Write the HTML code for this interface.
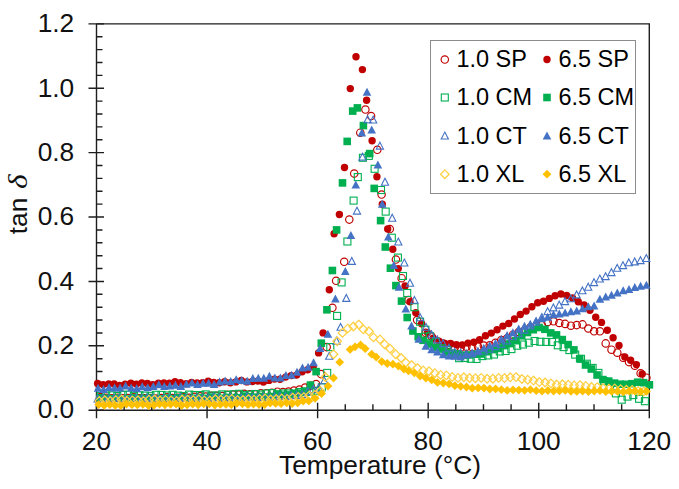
<!DOCTYPE html>
<html><head><meta charset="utf-8"><style>
html,body{margin:0;padding:0;background:#fff;width:679px;height:489px;overflow:hidden}
svg{display:block}
text{font-family:"Liberation Sans",sans-serif}
</style></head><body>
<svg width="679" height="489" viewBox="0 0 679 489" font-family="Liberation Sans, sans-serif" font-size="26.3" fill="#000">
<rect width="679" height="489" fill="#fff"/>
<path d="M96.5 23.9H649.3V410.2" fill="none" stroke="#1e1e1e" stroke-width="1.4"/><path d="M96.5 23.9V410.2H649.3" fill="none" stroke="#1e1e1e" stroke-width="1.4"/><path d="M88.5 410.20H104.0M96.5 397.32H102.5M96.5 384.45H102.5M96.5 371.57H102.5M96.5 358.69H102.5M88.5 345.82H104.0M96.5 332.94H102.5M96.5 320.06H102.5M96.5 307.19H102.5M96.5 294.31H102.5M88.5 281.43H104.0M96.5 268.56H102.5M96.5 255.68H102.5M96.5 242.80H102.5M96.5 229.93H102.5M88.5 217.05H104.0M96.5 204.17H102.5M96.5 191.30H102.5M96.5 178.42H102.5M96.5 165.54H102.5M88.5 152.67H104.0M96.5 139.79H102.5M96.5 126.91H102.5M96.5 114.04H102.5M96.5 101.16H102.5M88.5 88.28H104.0M96.5 75.41H102.5M96.5 62.53H102.5M96.5 49.65H102.5M96.5 36.78H102.5M88.5 23.90H104.0M96.50 402.7V418.2M124.14 404.2V410.2M151.78 404.2V410.2M179.42 404.2V410.2M207.06 402.7V418.2M234.70 404.2V410.2M262.34 404.2V410.2M289.98 404.2V410.2M317.62 402.7V418.2M345.26 404.2V410.2M372.90 404.2V410.2M400.54 404.2V410.2M428.18 402.7V418.2M455.82 404.2V410.2M483.46 404.2V410.2M511.10 404.2V410.2M538.74 402.7V418.2M566.38 404.2V410.2M594.02 404.2V410.2M621.66 404.2V410.2M649.30 402.7V418.2" fill="none" stroke="#1e1e1e" stroke-width="1.4"/>
<g><circle cx="100.5" cy="397.1" r="3.7" fill="none" stroke="#C00000" stroke-width="1.15"/><circle cx="106.1" cy="397.9" r="3.7" fill="none" stroke="#C00000" stroke-width="1.15"/><circle cx="111.6" cy="398.3" r="3.7" fill="none" stroke="#C00000" stroke-width="1.15"/><circle cx="117.1" cy="397.7" r="3.7" fill="none" stroke="#C00000" stroke-width="1.15"/><circle cx="122.6" cy="398.2" r="3.7" fill="none" stroke="#C00000" stroke-width="1.15"/><circle cx="128.2" cy="398.0" r="3.7" fill="none" stroke="#C00000" stroke-width="1.15"/><circle cx="133.7" cy="397.4" r="3.7" fill="none" stroke="#C00000" stroke-width="1.15"/><circle cx="139.2" cy="398.3" r="3.7" fill="none" stroke="#C00000" stroke-width="1.15"/><circle cx="144.8" cy="398.4" r="3.7" fill="none" stroke="#C00000" stroke-width="1.15"/><circle cx="150.3" cy="398.2" r="3.7" fill="none" stroke="#C00000" stroke-width="1.15"/><circle cx="155.8" cy="398.6" r="3.7" fill="none" stroke="#C00000" stroke-width="1.15"/><circle cx="161.3" cy="398.0" r="3.7" fill="none" stroke="#C00000" stroke-width="1.15"/><circle cx="166.9" cy="397.4" r="3.7" fill="none" stroke="#C00000" stroke-width="1.15"/><circle cx="172.4" cy="398.0" r="3.7" fill="none" stroke="#C00000" stroke-width="1.15"/><circle cx="177.9" cy="397.7" r="3.7" fill="none" stroke="#C00000" stroke-width="1.15"/><circle cx="183.5" cy="397.4" r="3.7" fill="none" stroke="#C00000" stroke-width="1.15"/><circle cx="189.0" cy="397.8" r="3.7" fill="none" stroke="#C00000" stroke-width="1.15"/><circle cx="194.5" cy="396.8" r="3.7" fill="none" stroke="#C00000" stroke-width="1.15"/><circle cx="200.0" cy="396.3" r="3.7" fill="none" stroke="#C00000" stroke-width="1.15"/><circle cx="205.6" cy="396.6" r="3.7" fill="none" stroke="#C00000" stroke-width="1.15"/><circle cx="211.1" cy="395.8" r="3.7" fill="none" stroke="#C00000" stroke-width="1.15"/><circle cx="216.6" cy="395.9" r="3.7" fill="none" stroke="#C00000" stroke-width="1.15"/><circle cx="222.2" cy="396.1" r="3.7" fill="none" stroke="#C00000" stroke-width="1.15"/><circle cx="227.7" cy="394.9" r="3.7" fill="none" stroke="#C00000" stroke-width="1.15"/><circle cx="233.2" cy="394.6" r="3.7" fill="none" stroke="#C00000" stroke-width="1.15"/><circle cx="238.7" cy="394.6" r="3.7" fill="none" stroke="#C00000" stroke-width="1.15"/><circle cx="244.3" cy="393.8" r="3.7" fill="none" stroke="#C00000" stroke-width="1.15"/><circle cx="249.8" cy="394.2" r="3.7" fill="none" stroke="#C00000" stroke-width="1.15"/><circle cx="255.3" cy="394.3" r="3.7" fill="none" stroke="#C00000" stroke-width="1.15"/><circle cx="260.8" cy="393.3" r="3.7" fill="none" stroke="#C00000" stroke-width="1.15"/><circle cx="266.4" cy="393.2" r="3.7" fill="none" stroke="#C00000" stroke-width="1.15"/><circle cx="271.9" cy="392.7" r="3.7" fill="none" stroke="#C00000" stroke-width="1.15"/><circle cx="277.4" cy="391.7" r="3.7" fill="none" stroke="#C00000" stroke-width="1.15"/><circle cx="283.0" cy="392.0" r="3.7" fill="none" stroke="#C00000" stroke-width="1.15"/><circle cx="288.5" cy="391.6" r="3.7" fill="none" stroke="#C00000" stroke-width="1.15"/><circle cx="294.0" cy="390.6" r="3.7" fill="none" stroke="#C00000" stroke-width="1.15"/><circle cx="299.5" cy="389.6" r="3.7" fill="none" stroke="#C00000" stroke-width="1.15"/><circle cx="305.1" cy="387.5" r="3.7" fill="none" stroke="#C00000" stroke-width="1.15"/><circle cx="310.6" cy="385.8" r="3.7" fill="none" stroke="#C00000" stroke-width="1.15"/><circle cx="316.1" cy="384.1" r="3.7" fill="none" stroke="#C00000" stroke-width="1.15"/><circle cx="321.0" cy="374.1" r="3.7" fill="none" stroke="#C00000" stroke-width="1.15"/><circle cx="326.7" cy="347.1" r="3.7" fill="none" stroke="#C00000" stroke-width="1.15"/><circle cx="332.4" cy="307.8" r="3.7" fill="none" stroke="#C00000" stroke-width="1.15"/><circle cx="336.1" cy="280.8" r="3.7" fill="none" stroke="#C00000" stroke-width="1.15"/><circle cx="344.2" cy="261.8" r="3.7" fill="none" stroke="#C00000" stroke-width="1.15"/><circle cx="349.3" cy="219.6" r="3.7" fill="none" stroke="#C00000" stroke-width="1.15"/><circle cx="354.2" cy="173.6" r="3.7" fill="none" stroke="#C00000" stroke-width="1.15"/><circle cx="360.3" cy="132.7" r="3.7" fill="none" stroke="#C00000" stroke-width="1.15"/><circle cx="365.4" cy="109.5" r="3.7" fill="none" stroke="#C00000" stroke-width="1.15"/><circle cx="371.1" cy="116.0" r="3.7" fill="none" stroke="#C00000" stroke-width="1.15"/><circle cx="377.3" cy="149.8" r="3.7" fill="none" stroke="#C00000" stroke-width="1.15"/><circle cx="381.6" cy="194.5" r="3.7" fill="none" stroke="#C00000" stroke-width="1.15"/><circle cx="389.8" cy="229.0" r="3.7" fill="none" stroke="#C00000" stroke-width="1.15"/><circle cx="395.9" cy="259.5" r="3.7" fill="none" stroke="#C00000" stroke-width="1.15"/><circle cx="401.6" cy="278.2" r="3.7" fill="none" stroke="#C00000" stroke-width="1.15"/><circle cx="408.6" cy="300.1" r="3.7" fill="none" stroke="#C00000" stroke-width="1.15"/><circle cx="417.1" cy="320.1" r="3.7" fill="none" stroke="#C00000" stroke-width="1.15"/><circle cx="425.8" cy="332.9" r="3.7" fill="none" stroke="#C00000" stroke-width="1.15"/><circle cx="431.6" cy="336.6" r="3.7" fill="none" stroke="#C00000" stroke-width="1.15"/><circle cx="437.4" cy="341.6" r="3.7" fill="none" stroke="#C00000" stroke-width="1.15"/><circle cx="443.2" cy="343.5" r="3.7" fill="none" stroke="#C00000" stroke-width="1.15"/><circle cx="449.0" cy="344.9" r="3.7" fill="none" stroke="#C00000" stroke-width="1.15"/><circle cx="454.8" cy="347.3" r="3.7" fill="none" stroke="#C00000" stroke-width="1.15"/><circle cx="460.6" cy="347.7" r="3.7" fill="none" stroke="#C00000" stroke-width="1.15"/><circle cx="466.4" cy="346.7" r="3.7" fill="none" stroke="#C00000" stroke-width="1.15"/><circle cx="472.2" cy="347.3" r="3.7" fill="none" stroke="#C00000" stroke-width="1.15"/><circle cx="478.0" cy="346.5" r="3.7" fill="none" stroke="#C00000" stroke-width="1.15"/><circle cx="483.8" cy="345.6" r="3.7" fill="none" stroke="#C00000" stroke-width="1.15"/><circle cx="489.7" cy="345.3" r="3.7" fill="none" stroke="#C00000" stroke-width="1.15"/><circle cx="495.5" cy="342.8" r="3.7" fill="none" stroke="#C00000" stroke-width="1.15"/><circle cx="501.3" cy="340.1" r="3.7" fill="none" stroke="#C00000" stroke-width="1.15"/><circle cx="507.1" cy="338.3" r="3.7" fill="none" stroke="#C00000" stroke-width="1.15"/><circle cx="512.9" cy="334.7" r="3.7" fill="none" stroke="#C00000" stroke-width="1.15"/><circle cx="518.7" cy="332.1" r="3.7" fill="none" stroke="#C00000" stroke-width="1.15"/><circle cx="524.5" cy="330.4" r="3.7" fill="none" stroke="#C00000" stroke-width="1.15"/><circle cx="530.3" cy="327.6" r="3.7" fill="none" stroke="#C00000" stroke-width="1.15"/><circle cx="536.1" cy="326.6" r="3.7" fill="none" stroke="#C00000" stroke-width="1.15"/><circle cx="541.9" cy="325.2" r="3.7" fill="none" stroke="#C00000" stroke-width="1.15"/><circle cx="547.7" cy="322.0" r="3.7" fill="none" stroke="#C00000" stroke-width="1.15"/><circle cx="553.5" cy="321.3" r="3.7" fill="none" stroke="#C00000" stroke-width="1.15"/><circle cx="559.3" cy="323.0" r="3.7" fill="none" stroke="#C00000" stroke-width="1.15"/><circle cx="565.1" cy="323.9" r="3.7" fill="none" stroke="#C00000" stroke-width="1.15"/><circle cx="570.9" cy="325.7" r="3.7" fill="none" stroke="#C00000" stroke-width="1.15"/><circle cx="576.7" cy="325.1" r="3.7" fill="none" stroke="#C00000" stroke-width="1.15"/><circle cx="582.5" cy="324.4" r="3.7" fill="none" stroke="#C00000" stroke-width="1.15"/><circle cx="588.3" cy="328.5" r="3.7" fill="none" stroke="#C00000" stroke-width="1.15"/><circle cx="594.1" cy="331.3" r="3.7" fill="none" stroke="#C00000" stroke-width="1.15"/><circle cx="599.9" cy="331.3" r="3.7" fill="none" stroke="#C00000" stroke-width="1.15"/><circle cx="605.7" cy="343.4" r="3.7" fill="none" stroke="#C00000" stroke-width="1.15"/><circle cx="611.5" cy="349.7" r="3.7" fill="none" stroke="#C00000" stroke-width="1.15"/><circle cx="617.3" cy="352.7" r="3.7" fill="none" stroke="#C00000" stroke-width="1.15"/><circle cx="623.2" cy="357.8" r="3.7" fill="none" stroke="#C00000" stroke-width="1.15"/><circle cx="629.0" cy="362.1" r="3.7" fill="none" stroke="#C00000" stroke-width="1.15"/><circle cx="634.8" cy="365.7" r="3.7" fill="none" stroke="#C00000" stroke-width="1.15"/><circle cx="640.6" cy="373.3" r="3.7" fill="none" stroke="#C00000" stroke-width="1.15"/><circle cx="646.4" cy="377.7" r="3.7" fill="none" stroke="#C00000" stroke-width="1.15"/></g><g><circle cx="97.6" cy="383.4" r="3.7" fill="#C00000"/><circle cx="103.1" cy="384.6" r="3.7" fill="#C00000"/><circle cx="108.7" cy="384.0" r="3.7" fill="#C00000"/><circle cx="114.2" cy="384.0" r="3.7" fill="#C00000"/><circle cx="119.7" cy="385.4" r="3.7" fill="#C00000"/><circle cx="125.2" cy="384.1" r="3.7" fill="#C00000"/><circle cx="130.8" cy="383.3" r="3.7" fill="#C00000"/><circle cx="136.3" cy="384.1" r="3.7" fill="#C00000"/><circle cx="141.8" cy="383.0" r="3.7" fill="#C00000"/><circle cx="147.4" cy="383.4" r="3.7" fill="#C00000"/><circle cx="152.9" cy="384.7" r="3.7" fill="#C00000"/><circle cx="158.4" cy="383.2" r="3.7" fill="#C00000"/><circle cx="163.9" cy="383.0" r="3.7" fill="#C00000"/><circle cx="169.5" cy="383.3" r="3.7" fill="#C00000"/><circle cx="175.0" cy="381.8" r="3.7" fill="#C00000"/><circle cx="180.5" cy="382.8" r="3.7" fill="#C00000"/><circle cx="186.1" cy="383.7" r="3.7" fill="#C00000"/><circle cx="191.6" cy="382.4" r="3.7" fill="#C00000"/><circle cx="197.1" cy="382.9" r="3.7" fill="#C00000"/><circle cx="202.6" cy="382.6" r="3.7" fill="#C00000"/><circle cx="208.2" cy="381.1" r="3.7" fill="#C00000"/><circle cx="213.7" cy="382.4" r="3.7" fill="#C00000"/><circle cx="219.2" cy="382.8" r="3.7" fill="#C00000"/><circle cx="224.7" cy="381.8" r="3.7" fill="#C00000"/><circle cx="230.3" cy="382.8" r="3.7" fill="#C00000"/><circle cx="235.8" cy="381.9" r="3.7" fill="#C00000"/><circle cx="241.3" cy="380.5" r="3.7" fill="#C00000"/><circle cx="246.9" cy="381.9" r="3.7" fill="#C00000"/><circle cx="252.4" cy="381.5" r="3.7" fill="#C00000"/><circle cx="257.9" cy="381.0" r="3.7" fill="#C00000"/><circle cx="263.4" cy="382.0" r="3.7" fill="#C00000"/><circle cx="269.0" cy="380.4" r="3.7" fill="#C00000"/><circle cx="274.5" cy="379.1" r="3.7" fill="#C00000"/><circle cx="280.0" cy="379.2" r="3.7" fill="#C00000"/><circle cx="285.6" cy="377.1" r="3.7" fill="#C00000"/><circle cx="291.1" cy="375.6" r="3.7" fill="#C00000"/><circle cx="296.6" cy="375.1" r="3.7" fill="#C00000"/><circle cx="302.1" cy="371.8" r="3.7" fill="#C00000"/><circle cx="307.7" cy="369.8" r="3.7" fill="#C00000"/><circle cx="313.2" cy="366.7" r="3.7" fill="#C00000"/><circle cx="318.6" cy="352.9" r="3.7" fill="#C00000"/><circle cx="323.1" cy="332.9" r="3.7" fill="#C00000"/><circle cx="329.3" cy="289.8" r="3.7" fill="#C00000"/><circle cx="334.1" cy="233.8" r="3.7" fill="#C00000"/><circle cx="339.4" cy="214.5" r="3.7" fill="#C00000"/><circle cx="344.5" cy="167.5" r="3.7" fill="#C00000"/><circle cx="350.3" cy="88.6" r="3.7" fill="#C00000"/><circle cx="356.0" cy="56.7" r="3.7" fill="#C00000"/><circle cx="362.4" cy="69.6" r="3.7" fill="#C00000"/><circle cx="366.6" cy="100.2" r="3.7" fill="#C00000"/><circle cx="372.1" cy="140.8" r="3.7" fill="#C00000"/><circle cx="376.9" cy="176.8" r="3.7" fill="#C00000"/><circle cx="382.3" cy="204.2" r="3.7" fill="#C00000"/><circle cx="387.7" cy="229.0" r="3.7" fill="#C00000"/><circle cx="392.8" cy="249.2" r="3.7" fill="#C00000"/><circle cx="398.3" cy="268.6" r="3.7" fill="#C00000"/><circle cx="405.1" cy="285.9" r="3.7" fill="#C00000"/><circle cx="410.0" cy="301.7" r="3.7" fill="#C00000"/><circle cx="415.8" cy="312.7" r="3.7" fill="#C00000"/><circle cx="421.6" cy="323.7" r="3.7" fill="#C00000"/><circle cx="427.4" cy="332.6" r="3.7" fill="#C00000"/><circle cx="433.2" cy="338.1" r="3.7" fill="#C00000"/><circle cx="439.0" cy="341.2" r="3.7" fill="#C00000"/><circle cx="444.8" cy="343.4" r="3.7" fill="#C00000"/><circle cx="450.6" cy="343.5" r="3.7" fill="#C00000"/><circle cx="456.4" cy="344.8" r="3.7" fill="#C00000"/><circle cx="462.2" cy="345.0" r="3.7" fill="#C00000"/><circle cx="468.0" cy="343.1" r="3.7" fill="#C00000"/><circle cx="473.8" cy="342.3" r="3.7" fill="#C00000"/><circle cx="479.6" cy="339.7" r="3.7" fill="#C00000"/><circle cx="485.5" cy="335.7" r="3.7" fill="#C00000"/><circle cx="491.3" cy="333.1" r="3.7" fill="#C00000"/><circle cx="497.1" cy="329.8" r="3.7" fill="#C00000"/><circle cx="502.9" cy="326.1" r="3.7" fill="#C00000"/><circle cx="508.7" cy="323.5" r="3.7" fill="#C00000"/><circle cx="514.5" cy="319.0" r="3.7" fill="#C00000"/><circle cx="520.3" cy="314.5" r="3.7" fill="#C00000"/><circle cx="526.1" cy="311.1" r="3.7" fill="#C00000"/><circle cx="531.9" cy="306.8" r="3.7" fill="#C00000"/><circle cx="537.7" cy="302.8" r="3.7" fill="#C00000"/><circle cx="543.5" cy="301.2" r="3.7" fill="#C00000"/><circle cx="549.3" cy="298.4" r="3.7" fill="#C00000"/><circle cx="555.1" cy="295.8" r="3.7" fill="#C00000"/><circle cx="560.9" cy="294.0" r="3.7" fill="#C00000"/><circle cx="566.7" cy="295.5" r="3.7" fill="#C00000"/><circle cx="572.5" cy="298.0" r="3.7" fill="#C00000"/><circle cx="578.3" cy="301.7" r="3.7" fill="#C00000"/><circle cx="584.1" cy="304.9" r="3.7" fill="#C00000"/><circle cx="589.9" cy="310.2" r="3.7" fill="#C00000"/><circle cx="595.7" cy="317.2" r="3.7" fill="#C00000"/><circle cx="601.5" cy="322.4" r="3.7" fill="#C00000"/><circle cx="607.3" cy="330.2" r="3.7" fill="#C00000"/><circle cx="613.1" cy="337.8" r="3.7" fill="#C00000"/><circle cx="619.0" cy="345.4" r="3.7" fill="#C00000"/><circle cx="624.8" cy="357.0" r="3.7" fill="#C00000"/><circle cx="630.6" cy="360.3" r="3.7" fill="#C00000"/><circle cx="636.4" cy="364.6" r="3.7" fill="#C00000"/><circle cx="642.2" cy="373.9" r="3.7" fill="#C00000"/></g><g><rect x="97.2" y="392.4" width="7.0" height="7.0" fill="none" stroke="#00B050" stroke-width="1.1"/><rect x="102.7" y="392.1" width="7.0" height="7.0" fill="none" stroke="#00B050" stroke-width="1.1"/><rect x="108.3" y="391.8" width="7.0" height="7.0" fill="none" stroke="#00B050" stroke-width="1.1"/><rect x="113.8" y="392.5" width="7.0" height="7.0" fill="none" stroke="#00B050" stroke-width="1.1"/><rect x="119.3" y="391.4" width="7.0" height="7.0" fill="none" stroke="#00B050" stroke-width="1.1"/><rect x="124.8" y="391.2" width="7.0" height="7.0" fill="none" stroke="#00B050" stroke-width="1.1"/><rect x="130.4" y="392.3" width="7.0" height="7.0" fill="none" stroke="#00B050" stroke-width="1.1"/><rect x="135.9" y="391.8" width="7.0" height="7.0" fill="none" stroke="#00B050" stroke-width="1.1"/><rect x="141.4" y="392.1" width="7.0" height="7.0" fill="none" stroke="#00B050" stroke-width="1.1"/><rect x="147.0" y="392.7" width="7.0" height="7.0" fill="none" stroke="#00B050" stroke-width="1.1"/><rect x="152.5" y="391.3" width="7.0" height="7.0" fill="none" stroke="#00B050" stroke-width="1.1"/><rect x="158.0" y="391.4" width="7.0" height="7.0" fill="none" stroke="#00B050" stroke-width="1.1"/><rect x="163.5" y="392.0" width="7.0" height="7.0" fill="none" stroke="#00B050" stroke-width="1.1"/><rect x="169.1" y="391.3" width="7.0" height="7.0" fill="none" stroke="#00B050" stroke-width="1.1"/><rect x="174.6" y="392.1" width="7.0" height="7.0" fill="none" stroke="#00B050" stroke-width="1.1"/><rect x="180.1" y="392.5" width="7.0" height="7.0" fill="none" stroke="#00B050" stroke-width="1.1"/><rect x="185.6" y="391.1" width="7.0" height="7.0" fill="none" stroke="#00B050" stroke-width="1.1"/><rect x="191.2" y="391.5" width="7.0" height="7.0" fill="none" stroke="#00B050" stroke-width="1.1"/><rect x="196.7" y="391.6" width="7.0" height="7.0" fill="none" stroke="#00B050" stroke-width="1.1"/><rect x="202.2" y="390.9" width="7.0" height="7.0" fill="none" stroke="#00B050" stroke-width="1.1"/><rect x="207.8" y="392.1" width="7.0" height="7.0" fill="none" stroke="#00B050" stroke-width="1.1"/><rect x="213.3" y="392.0" width="7.0" height="7.0" fill="none" stroke="#00B050" stroke-width="1.1"/><rect x="218.8" y="390.9" width="7.0" height="7.0" fill="none" stroke="#00B050" stroke-width="1.1"/><rect x="224.3" y="391.4" width="7.0" height="7.0" fill="none" stroke="#00B050" stroke-width="1.1"/><rect x="229.9" y="390.8" width="7.0" height="7.0" fill="none" stroke="#00B050" stroke-width="1.1"/><rect x="235.4" y="390.3" width="7.0" height="7.0" fill="none" stroke="#00B050" stroke-width="1.1"/><rect x="240.9" y="391.6" width="7.0" height="7.0" fill="none" stroke="#00B050" stroke-width="1.1"/><rect x="246.5" y="391.2" width="7.0" height="7.0" fill="none" stroke="#00B050" stroke-width="1.1"/><rect x="252.0" y="390.5" width="7.0" height="7.0" fill="none" stroke="#00B050" stroke-width="1.1"/><rect x="257.5" y="391.1" width="7.0" height="7.0" fill="none" stroke="#00B050" stroke-width="1.1"/><rect x="263.0" y="390.0" width="7.0" height="7.0" fill="none" stroke="#00B050" stroke-width="1.1"/><rect x="268.6" y="389.6" width="7.0" height="7.0" fill="none" stroke="#00B050" stroke-width="1.1"/><rect x="274.1" y="390.7" width="7.0" height="7.0" fill="none" stroke="#00B050" stroke-width="1.1"/><rect x="279.6" y="390.0" width="7.0" height="7.0" fill="none" stroke="#00B050" stroke-width="1.1"/><rect x="285.2" y="389.9" width="7.0" height="7.0" fill="none" stroke="#00B050" stroke-width="1.1"/><rect x="290.7" y="390.3" width="7.0" height="7.0" fill="none" stroke="#00B050" stroke-width="1.1"/><rect x="296.2" y="388.5" width="7.0" height="7.0" fill="none" stroke="#00B050" stroke-width="1.1"/><rect x="301.7" y="388.1" width="7.0" height="7.0" fill="none" stroke="#00B050" stroke-width="1.1"/><rect x="307.3" y="388.4" width="7.0" height="7.0" fill="none" stroke="#00B050" stroke-width="1.1"/><rect x="312.8" y="387.2" width="7.0" height="7.0" fill="none" stroke="#00B050" stroke-width="1.1"/><rect x="318.3" y="383.8" width="7.0" height="7.0" fill="none" stroke="#00B050" stroke-width="1.1"/><rect x="323.7" y="369.4" width="7.0" height="7.0" fill="none" stroke="#00B050" stroke-width="1.1"/><rect x="326.8" y="343.6" width="7.0" height="7.0" fill="none" stroke="#00B050" stroke-width="1.1"/><rect x="333.6" y="312.4" width="7.0" height="7.0" fill="none" stroke="#00B050" stroke-width="1.1"/><rect x="338.1" y="278.9" width="7.0" height="7.0" fill="none" stroke="#00B050" stroke-width="1.1"/><rect x="343.9" y="238.0" width="7.0" height="7.0" fill="none" stroke="#00B050" stroke-width="1.1"/><rect x="350.1" y="197.1" width="7.0" height="7.0" fill="none" stroke="#00B050" stroke-width="1.1"/><rect x="354.3" y="173.6" width="7.0" height="7.0" fill="none" stroke="#00B050" stroke-width="1.1"/><rect x="359.4" y="154.3" width="7.0" height="7.0" fill="none" stroke="#00B050" stroke-width="1.1"/><rect x="365.3" y="152.4" width="7.0" height="7.0" fill="none" stroke="#00B050" stroke-width="1.1"/><rect x="371.1" y="165.3" width="7.0" height="7.0" fill="none" stroke="#00B050" stroke-width="1.1"/><rect x="377.5" y="186.5" width="7.0" height="7.0" fill="none" stroke="#00B050" stroke-width="1.1"/><rect x="382.2" y="208.1" width="7.0" height="7.0" fill="none" stroke="#00B050" stroke-width="1.1"/><rect x="388.3" y="234.2" width="7.0" height="7.0" fill="none" stroke="#00B050" stroke-width="1.1"/><rect x="394.4" y="254.1" width="7.0" height="7.0" fill="none" stroke="#00B050" stroke-width="1.1"/><rect x="399.5" y="272.5" width="7.0" height="7.0" fill="none" stroke="#00B050" stroke-width="1.1"/><rect x="403.7" y="289.5" width="7.0" height="7.0" fill="none" stroke="#00B050" stroke-width="1.1"/><rect x="410.9" y="303.7" width="7.0" height="7.0" fill="none" stroke="#00B050" stroke-width="1.1"/><rect x="416.6" y="318.2" width="7.0" height="7.0" fill="none" stroke="#00B050" stroke-width="1.1"/><rect x="421.9" y="326.2" width="7.0" height="7.0" fill="none" stroke="#00B050" stroke-width="1.1"/><rect x="426.6" y="332.7" width="7.0" height="7.0" fill="none" stroke="#00B050" stroke-width="1.1"/><rect x="432.4" y="338.3" width="7.0" height="7.0" fill="none" stroke="#00B050" stroke-width="1.1"/><rect x="438.2" y="344.7" width="7.0" height="7.0" fill="none" stroke="#00B050" stroke-width="1.1"/><rect x="444.0" y="346.8" width="7.0" height="7.0" fill="none" stroke="#00B050" stroke-width="1.1"/><rect x="449.8" y="350.4" width="7.0" height="7.0" fill="none" stroke="#00B050" stroke-width="1.1"/><rect x="455.6" y="354.7" width="7.0" height="7.0" fill="none" stroke="#00B050" stroke-width="1.1"/><rect x="461.4" y="354.5" width="7.0" height="7.0" fill="none" stroke="#00B050" stroke-width="1.1"/><rect x="467.2" y="355.3" width="7.0" height="7.0" fill="none" stroke="#00B050" stroke-width="1.1"/><rect x="473.0" y="355.5" width="7.0" height="7.0" fill="none" stroke="#00B050" stroke-width="1.1"/><rect x="478.9" y="352.6" width="7.0" height="7.0" fill="none" stroke="#00B050" stroke-width="1.1"/><rect x="484.7" y="351.9" width="7.0" height="7.0" fill="none" stroke="#00B050" stroke-width="1.1"/><rect x="490.5" y="351.0" width="7.0" height="7.0" fill="none" stroke="#00B050" stroke-width="1.1"/><rect x="496.3" y="348.0" width="7.0" height="7.0" fill="none" stroke="#00B050" stroke-width="1.1"/><rect x="502.1" y="347.5" width="7.0" height="7.0" fill="none" stroke="#00B050" stroke-width="1.1"/><rect x="507.9" y="345.6" width="7.0" height="7.0" fill="none" stroke="#00B050" stroke-width="1.1"/><rect x="513.7" y="342.2" width="7.0" height="7.0" fill="none" stroke="#00B050" stroke-width="1.1"/><rect x="519.5" y="341.0" width="7.0" height="7.0" fill="none" stroke="#00B050" stroke-width="1.1"/><rect x="525.3" y="339.2" width="7.0" height="7.0" fill="none" stroke="#00B050" stroke-width="1.1"/><rect x="531.1" y="337.5" width="7.0" height="7.0" fill="none" stroke="#00B050" stroke-width="1.1"/><rect x="536.9" y="338.3" width="7.0" height="7.0" fill="none" stroke="#00B050" stroke-width="1.1"/><rect x="542.7" y="338.4" width="7.0" height="7.0" fill="none" stroke="#00B050" stroke-width="1.1"/><rect x="548.5" y="338.5" width="7.0" height="7.0" fill="none" stroke="#00B050" stroke-width="1.1"/><rect x="554.3" y="341.8" width="7.0" height="7.0" fill="none" stroke="#00B050" stroke-width="1.1"/><rect x="560.1" y="343.6" width="7.0" height="7.0" fill="none" stroke="#00B050" stroke-width="1.1"/><rect x="565.9" y="346.6" width="7.0" height="7.0" fill="none" stroke="#00B050" stroke-width="1.1"/><rect x="571.7" y="351.1" width="7.0" height="7.0" fill="none" stroke="#00B050" stroke-width="1.1"/><rect x="577.5" y="355.3" width="7.0" height="7.0" fill="none" stroke="#00B050" stroke-width="1.1"/><rect x="583.3" y="360.2" width="7.0" height="7.0" fill="none" stroke="#00B050" stroke-width="1.1"/><rect x="589.1" y="364.4" width="7.0" height="7.0" fill="none" stroke="#00B050" stroke-width="1.1"/><rect x="594.9" y="369.4" width="7.0" height="7.0" fill="none" stroke="#00B050" stroke-width="1.1"/><rect x="600.7" y="377.6" width="7.0" height="7.0" fill="none" stroke="#00B050" stroke-width="1.1"/><rect x="606.6" y="385.2" width="7.0" height="7.0" fill="none" stroke="#00B050" stroke-width="1.1"/><rect x="612.4" y="389.9" width="7.0" height="7.0" fill="none" stroke="#00B050" stroke-width="1.1"/><rect x="618.2" y="396.2" width="7.0" height="7.0" fill="none" stroke="#00B050" stroke-width="1.1"/><rect x="624.0" y="393.1" width="7.0" height="7.0" fill="none" stroke="#00B050" stroke-width="1.1"/><rect x="629.8" y="391.6" width="7.0" height="7.0" fill="none" stroke="#00B050" stroke-width="1.1"/><rect x="635.6" y="395.3" width="7.0" height="7.0" fill="none" stroke="#00B050" stroke-width="1.1"/><rect x="641.4" y="397.7" width="7.0" height="7.0" fill="none" stroke="#00B050" stroke-width="1.1"/></g><g><rect x="96.6" y="394.0" width="7.6" height="7.6" fill="#00B050"/><rect x="102.1" y="394.6" width="7.6" height="7.6" fill="#00B050"/><rect x="107.6" y="395.0" width="7.6" height="7.6" fill="#00B050"/><rect x="113.2" y="394.4" width="7.6" height="7.6" fill="#00B050"/><rect x="118.7" y="395.5" width="7.6" height="7.6" fill="#00B050"/><rect x="124.2" y="395.3" width="7.6" height="7.6" fill="#00B050"/><rect x="129.7" y="394.1" width="7.6" height="7.6" fill="#00B050"/><rect x="135.3" y="394.8" width="7.6" height="7.6" fill="#00B050"/><rect x="140.8" y="394.7" width="7.6" height="7.6" fill="#00B050"/><rect x="146.3" y="394.3" width="7.6" height="7.6" fill="#00B050"/><rect x="151.8" y="395.6" width="7.6" height="7.6" fill="#00B050"/><rect x="157.4" y="395.1" width="7.6" height="7.6" fill="#00B050"/><rect x="162.9" y="394.2" width="7.6" height="7.6" fill="#00B050"/><rect x="168.4" y="394.8" width="7.6" height="7.6" fill="#00B050"/><rect x="174.0" y="394.0" width="7.6" height="7.6" fill="#00B050"/><rect x="179.5" y="393.9" width="7.6" height="7.6" fill="#00B050"/><rect x="185.0" y="395.2" width="7.6" height="7.6" fill="#00B050"/><rect x="190.5" y="394.5" width="7.6" height="7.6" fill="#00B050"/><rect x="196.1" y="394.1" width="7.6" height="7.6" fill="#00B050"/><rect x="201.6" y="394.6" width="7.6" height="7.6" fill="#00B050"/><rect x="207.1" y="393.3" width="7.6" height="7.6" fill="#00B050"/><rect x="212.7" y="393.5" width="7.6" height="7.6" fill="#00B050"/><rect x="218.2" y="394.5" width="7.6" height="7.6" fill="#00B050"/><rect x="223.7" y="393.6" width="7.6" height="7.6" fill="#00B050"/><rect x="229.2" y="393.8" width="7.6" height="7.6" fill="#00B050"/><rect x="234.8" y="393.9" width="7.6" height="7.6" fill="#00B050"/><rect x="240.3" y="392.4" width="7.6" height="7.6" fill="#00B050"/><rect x="245.8" y="392.9" width="7.6" height="7.6" fill="#00B050"/><rect x="251.4" y="393.4" width="7.6" height="7.6" fill="#00B050"/><rect x="256.9" y="392.7" width="7.6" height="7.6" fill="#00B050"/><rect x="262.4" y="393.2" width="7.6" height="7.6" fill="#00B050"/><rect x="267.9" y="392.7" width="7.6" height="7.6" fill="#00B050"/><rect x="273.5" y="391.0" width="7.6" height="7.6" fill="#00B050"/><rect x="279.0" y="391.4" width="7.6" height="7.6" fill="#00B050"/><rect x="284.5" y="391.1" width="7.6" height="7.6" fill="#00B050"/><rect x="290.0" y="389.6" width="7.6" height="7.6" fill="#00B050"/><rect x="295.6" y="389.3" width="7.6" height="7.6" fill="#00B050"/><rect x="301.1" y="387.4" width="7.6" height="7.6" fill="#00B050"/><rect x="306.6" y="381.3" width="7.6" height="7.6" fill="#00B050"/><rect x="312.3" y="367.8" width="7.6" height="7.6" fill="#00B050"/><rect x="317.5" y="339.4" width="7.6" height="7.6" fill="#00B050"/><rect x="323.1" y="306.0" width="7.6" height="7.6" fill="#00B050"/><rect x="328.6" y="266.7" width="7.6" height="7.6" fill="#00B050"/><rect x="332.8" y="226.1" width="7.6" height="7.6" fill="#00B050"/><rect x="338.7" y="179.1" width="7.6" height="7.6" fill="#00B050"/><rect x="343.4" y="137.6" width="7.6" height="7.6" fill="#00B050"/><rect x="348.9" y="107.3" width="7.6" height="7.6" fill="#00B050"/><rect x="353.6" y="104.1" width="7.6" height="7.6" fill="#00B050"/><rect x="359.6" y="121.8" width="7.6" height="7.6" fill="#00B050"/><rect x="365.9" y="149.8" width="7.6" height="7.6" fill="#00B050"/><rect x="370.4" y="184.6" width="7.6" height="7.6" fill="#00B050"/><rect x="376.8" y="216.8" width="7.6" height="7.6" fill="#00B050"/><rect x="381.5" y="243.2" width="7.6" height="7.6" fill="#00B050"/><rect x="386.6" y="264.4" width="7.6" height="7.6" fill="#00B050"/><rect x="392.1" y="281.8" width="7.6" height="7.6" fill="#00B050"/><rect x="397.7" y="297.3" width="7.6" height="7.6" fill="#00B050"/><rect x="403.4" y="313.7" width="7.6" height="7.6" fill="#00B050"/><rect x="409.1" y="327.2" width="7.6" height="7.6" fill="#00B050"/><rect x="414.4" y="333.0" width="7.6" height="7.6" fill="#00B050"/><rect x="419.2" y="336.5" width="7.6" height="7.6" fill="#00B050"/><rect x="425.0" y="340.2" width="7.6" height="7.6" fill="#00B050"/><rect x="430.8" y="343.5" width="7.6" height="7.6" fill="#00B050"/><rect x="436.6" y="345.2" width="7.6" height="7.6" fill="#00B050"/><rect x="442.4" y="348.3" width="7.6" height="7.6" fill="#00B050"/><rect x="448.2" y="349.4" width="7.6" height="7.6" fill="#00B050"/><rect x="454.0" y="350.1" width="7.6" height="7.6" fill="#00B050"/><rect x="459.8" y="351.3" width="7.6" height="7.6" fill="#00B050"/><rect x="465.6" y="351.1" width="7.6" height="7.6" fill="#00B050"/><rect x="471.4" y="350.4" width="7.6" height="7.6" fill="#00B050"/><rect x="477.2" y="350.2" width="7.6" height="7.6" fill="#00B050"/><rect x="483.0" y="347.9" width="7.6" height="7.6" fill="#00B050"/><rect x="488.8" y="345.8" width="7.6" height="7.6" fill="#00B050"/><rect x="494.6" y="344.6" width="7.6" height="7.6" fill="#00B050"/><rect x="500.4" y="341.8" width="7.6" height="7.6" fill="#00B050"/><rect x="506.2" y="339.8" width="7.6" height="7.6" fill="#00B050"/><rect x="512.1" y="336.9" width="7.6" height="7.6" fill="#00B050"/><rect x="517.9" y="332.0" width="7.6" height="7.6" fill="#00B050"/><rect x="523.7" y="328.7" width="7.6" height="7.6" fill="#00B050"/><rect x="529.5" y="325.9" width="7.6" height="7.6" fill="#00B050"/><rect x="535.3" y="323.7" width="7.6" height="7.6" fill="#00B050"/><rect x="541.1" y="325.5" width="7.6" height="7.6" fill="#00B050"/><rect x="546.9" y="329.1" width="7.6" height="7.6" fill="#00B050"/><rect x="552.7" y="331.1" width="7.6" height="7.6" fill="#00B050"/><rect x="558.5" y="335.8" width="7.6" height="7.6" fill="#00B050"/><rect x="564.3" y="340.8" width="7.6" height="7.6" fill="#00B050"/><rect x="570.1" y="346.1" width="7.6" height="7.6" fill="#00B050"/><rect x="575.9" y="354.9" width="7.6" height="7.6" fill="#00B050"/><rect x="581.7" y="361.2" width="7.6" height="7.6" fill="#00B050"/><rect x="587.5" y="365.2" width="7.6" height="7.6" fill="#00B050"/><rect x="593.3" y="371.2" width="7.6" height="7.6" fill="#00B050"/><rect x="599.1" y="375.8" width="7.6" height="7.6" fill="#00B050"/><rect x="604.9" y="377.3" width="7.6" height="7.6" fill="#00B050"/><rect x="610.7" y="379.3" width="7.6" height="7.6" fill="#00B050"/><rect x="616.5" y="380.4" width="7.6" height="7.6" fill="#00B050"/><rect x="622.3" y="380.5" width="7.6" height="7.6" fill="#00B050"/><rect x="628.1" y="379.9" width="7.6" height="7.6" fill="#00B050"/><rect x="633.9" y="378.4" width="7.6" height="7.6" fill="#00B050"/><rect x="639.8" y="378.9" width="7.6" height="7.6" fill="#00B050"/><rect x="645.6" y="381.0" width="7.6" height="7.6" fill="#00B050"/></g><g><path d="M97.6 395.1L101.2 402.0L94.0 402.0Z" fill="none" stroke="#4472C4" stroke-width="1.1"/><path d="M103.1 394.2L106.7 401.1L99.5 401.1Z" fill="none" stroke="#4472C4" stroke-width="1.1"/><path d="M108.7 395.0L112.3 401.9L105.1 401.9Z" fill="none" stroke="#4472C4" stroke-width="1.1"/><path d="M114.2 394.5L117.8 401.4L110.6 401.4Z" fill="none" stroke="#4472C4" stroke-width="1.1"/><path d="M119.7 394.5L123.3 401.4L116.1 401.4Z" fill="none" stroke="#4472C4" stroke-width="1.1"/><path d="M125.2 395.7L128.8 402.6L121.6 402.6Z" fill="none" stroke="#4472C4" stroke-width="1.1"/><path d="M130.8 394.8L134.4 401.7L127.2 401.7Z" fill="none" stroke="#4472C4" stroke-width="1.1"/><path d="M136.3 394.3L139.9 401.2L132.7 401.2Z" fill="none" stroke="#4472C4" stroke-width="1.1"/><path d="M141.8 394.9L145.4 401.8L138.2 401.8Z" fill="none" stroke="#4472C4" stroke-width="1.1"/><path d="M147.4 394.0L151.0 400.9L143.8 400.9Z" fill="none" stroke="#4472C4" stroke-width="1.1"/><path d="M152.9 394.4L156.5 401.3L149.3 401.3Z" fill="none" stroke="#4472C4" stroke-width="1.1"/><path d="M158.4 395.4L162.0 402.3L154.8 402.3Z" fill="none" stroke="#4472C4" stroke-width="1.1"/><path d="M163.9 394.5L167.5 401.4L160.3 401.4Z" fill="none" stroke="#4472C4" stroke-width="1.1"/><path d="M169.5 394.5L173.1 401.4L165.9 401.4Z" fill="none" stroke="#4472C4" stroke-width="1.1"/><path d="M175.0 394.7L178.6 401.6L171.4 401.6Z" fill="none" stroke="#4472C4" stroke-width="1.1"/><path d="M180.5 393.5L184.1 400.4L176.9 400.4Z" fill="none" stroke="#4472C4" stroke-width="1.1"/><path d="M186.1 394.3L189.7 401.2L182.5 401.2Z" fill="none" stroke="#4472C4" stroke-width="1.1"/><path d="M191.6 395.0L195.2 401.9L188.0 401.9Z" fill="none" stroke="#4472C4" stroke-width="1.1"/><path d="M197.1 394.2L200.7 401.1L193.5 401.1Z" fill="none" stroke="#4472C4" stroke-width="1.1"/><path d="M202.6 394.7L206.2 401.6L199.0 401.6Z" fill="none" stroke="#4472C4" stroke-width="1.1"/><path d="M208.2 394.5L211.8 401.4L204.6 401.4Z" fill="none" stroke="#4472C4" stroke-width="1.1"/><path d="M213.7 393.2L217.3 400.1L210.1 400.1Z" fill="none" stroke="#4472C4" stroke-width="1.1"/><path d="M219.2 394.1L222.8 401.0L215.6 401.0Z" fill="none" stroke="#4472C4" stroke-width="1.1"/><path d="M224.7 394.4L228.3 401.3L221.1 401.3Z" fill="none" stroke="#4472C4" stroke-width="1.1"/><path d="M230.3 393.8L233.9 400.7L226.7 400.7Z" fill="none" stroke="#4472C4" stroke-width="1.1"/><path d="M235.8 394.6L239.4 401.5L232.2 401.5Z" fill="none" stroke="#4472C4" stroke-width="1.1"/><path d="M241.3 394.0L244.9 400.9L237.7 400.9Z" fill="none" stroke="#4472C4" stroke-width="1.1"/><path d="M246.9 392.9L250.5 399.8L243.3 399.8Z" fill="none" stroke="#4472C4" stroke-width="1.1"/><path d="M252.4 393.9L256.0 400.8L248.8 400.8Z" fill="none" stroke="#4472C4" stroke-width="1.1"/><path d="M257.9 393.6L261.5 400.5L254.3 400.5Z" fill="none" stroke="#4472C4" stroke-width="1.1"/><path d="M263.4 393.4L267.0 400.3L259.8 400.3Z" fill="none" stroke="#4472C4" stroke-width="1.1"/><path d="M269.0 394.2L272.6 401.1L265.4 401.1Z" fill="none" stroke="#4472C4" stroke-width="1.1"/><path d="M274.5 393.0L278.1 399.9L270.9 399.9Z" fill="none" stroke="#4472C4" stroke-width="1.1"/><path d="M280.0 392.2L283.6 399.1L276.4 399.1Z" fill="none" stroke="#4472C4" stroke-width="1.1"/><path d="M285.6 392.7L289.2 399.6L282.0 399.6Z" fill="none" stroke="#4472C4" stroke-width="1.1"/><path d="M291.1 391.8L294.7 398.7L287.5 398.7Z" fill="none" stroke="#4472C4" stroke-width="1.1"/><path d="M296.6 391.5L300.2 398.4L293.0 398.4Z" fill="none" stroke="#4472C4" stroke-width="1.1"/><path d="M302.1 390.7L305.7 397.6L298.5 397.6Z" fill="none" stroke="#4472C4" stroke-width="1.1"/><path d="M307.7 387.7L311.3 394.6L304.1 394.6Z" fill="none" stroke="#4472C4" stroke-width="1.1"/><path d="M313.2 385.6L316.8 392.5L309.6 392.5Z" fill="none" stroke="#4472C4" stroke-width="1.1"/><path d="M318.7 384.2L322.3 391.1L315.1 391.1Z" fill="none" stroke="#4472C4" stroke-width="1.1"/><path d="M324.3 376.9L327.9 383.8L320.7 383.8Z" fill="none" stroke="#4472C4" stroke-width="1.1"/><path d="M329.2 352.4L332.8 359.3L325.6 359.3Z" fill="none" stroke="#4472C4" stroke-width="1.1"/><path d="M336.5 337.3L340.1 344.2L332.9 344.2Z" fill="none" stroke="#4472C4" stroke-width="1.1"/><path d="M340.6 323.4L344.2 330.3L337.0 330.3Z" fill="none" stroke="#4472C4" stroke-width="1.1"/><path d="M346.3 294.5L349.9 301.4L342.7 301.4Z" fill="none" stroke="#4472C4" stroke-width="1.1"/><path d="M351.8 257.5L355.4 264.4L348.2 264.4Z" fill="none" stroke="#4472C4" stroke-width="1.1"/><path d="M357.0 207.2L360.6 214.1L353.4 214.1Z" fill="none" stroke="#4472C4" stroke-width="1.1"/><path d="M362.5 153.2L366.1 160.1L358.9 160.1Z" fill="none" stroke="#4472C4" stroke-width="1.1"/><path d="M367.6 115.8L371.2 122.7L364.0 122.7Z" fill="none" stroke="#4472C4" stroke-width="1.1"/><path d="M373.2 116.1L376.8 123.0L369.6 123.0Z" fill="none" stroke="#4472C4" stroke-width="1.1"/><path d="M379.9 142.2L383.5 149.1L376.3 149.1Z" fill="none" stroke="#4472C4" stroke-width="1.1"/><path d="M385.0 178.3L388.6 185.2L381.4 185.2Z" fill="none" stroke="#4472C4" stroke-width="1.1"/><path d="M392.2 214.3L395.8 221.2L388.6 221.2Z" fill="none" stroke="#4472C4" stroke-width="1.1"/><path d="M398.3 238.1L401.9 245.0L394.7 245.0Z" fill="none" stroke="#4472C4" stroke-width="1.1"/><path d="M404.3 259.1L407.9 266.0L400.7 266.0Z" fill="none" stroke="#4472C4" stroke-width="1.1"/><path d="M410.0 279.3L413.6 286.2L406.4 286.2Z" fill="none" stroke="#4472C4" stroke-width="1.1"/><path d="M414.4 296.4L418.0 303.3L410.8 303.3Z" fill="none" stroke="#4472C4" stroke-width="1.1"/><path d="M420.1 313.8L423.7 320.7L416.5 320.7Z" fill="none" stroke="#4472C4" stroke-width="1.1"/><path d="M426.0 323.4L429.6 330.3L422.4 330.3Z" fill="none" stroke="#4472C4" stroke-width="1.1"/><path d="M431.5 330.8L435.1 337.7L427.9 337.7Z" fill="none" stroke="#4472C4" stroke-width="1.1"/><path d="M437.3 336.0L440.9 342.9L433.7 342.9Z" fill="none" stroke="#4472C4" stroke-width="1.1"/><path d="M443.1 339.7L446.7 346.6L439.5 346.6Z" fill="none" stroke="#4472C4" stroke-width="1.1"/><path d="M448.9 344.2L452.5 351.1L445.3 351.1Z" fill="none" stroke="#4472C4" stroke-width="1.1"/><path d="M454.7 348.4L458.3 355.3L451.1 355.3Z" fill="none" stroke="#4472C4" stroke-width="1.1"/><path d="M460.5 349.1L464.1 356.0L456.9 356.0Z" fill="none" stroke="#4472C4" stroke-width="1.1"/><path d="M466.3 350.1L469.9 357.0L462.7 357.0Z" fill="none" stroke="#4472C4" stroke-width="1.1"/><path d="M472.1 350.0L475.7 356.9L468.5 356.9Z" fill="none" stroke="#4472C4" stroke-width="1.1"/><path d="M477.9 347.9L481.5 354.8L474.3 354.8Z" fill="none" stroke="#4472C4" stroke-width="1.1"/><path d="M483.7 347.1L487.3 354.0L480.1 354.0Z" fill="none" stroke="#4472C4" stroke-width="1.1"/><path d="M489.5 345.4L493.1 352.3L485.9 352.3Z" fill="none" stroke="#4472C4" stroke-width="1.1"/><path d="M495.3 342.7L498.9 349.6L491.7 349.6Z" fill="none" stroke="#4472C4" stroke-width="1.1"/><path d="M501.1 340.4L504.7 347.3L497.5 347.3Z" fill="none" stroke="#4472C4" stroke-width="1.1"/><path d="M507.0 337.0L510.6 343.9L503.4 343.9Z" fill="none" stroke="#4472C4" stroke-width="1.1"/><path d="M512.8 332.9L516.4 339.8L509.2 339.8Z" fill="none" stroke="#4472C4" stroke-width="1.1"/><path d="M518.6 329.9L522.2 336.8L515.0 336.8Z" fill="none" stroke="#4472C4" stroke-width="1.1"/><path d="M524.4 326.2L528.0 333.1L520.8 333.1Z" fill="none" stroke="#4472C4" stroke-width="1.1"/><path d="M530.2 322.0L533.8 328.9L526.6 328.9Z" fill="none" stroke="#4472C4" stroke-width="1.1"/><path d="M536.0 318.4L539.6 325.3L532.4 325.3Z" fill="none" stroke="#4472C4" stroke-width="1.1"/><path d="M541.8 313.6L545.4 320.5L538.2 320.5Z" fill="none" stroke="#4472C4" stroke-width="1.1"/><path d="M547.6 307.7L551.2 314.6L544.0 314.6Z" fill="none" stroke="#4472C4" stroke-width="1.1"/><path d="M553.4 304.0L557.0 310.9L549.8 310.9Z" fill="none" stroke="#4472C4" stroke-width="1.1"/><path d="M559.2 301.2L562.8 308.1L555.6 308.1Z" fill="none" stroke="#4472C4" stroke-width="1.1"/><path d="M565.0 297.7L568.6 304.6L561.4 304.6Z" fill="none" stroke="#4472C4" stroke-width="1.1"/><path d="M570.8 294.9L574.4 301.8L567.2 301.8Z" fill="none" stroke="#4472C4" stroke-width="1.1"/><path d="M576.6 291.0L580.2 297.9L573.0 297.9Z" fill="none" stroke="#4472C4" stroke-width="1.1"/><path d="M582.4 286.9L586.0 293.8L578.8 293.8Z" fill="none" stroke="#4472C4" stroke-width="1.1"/><path d="M588.2 283.3L591.8 290.2L584.6 290.2Z" fill="none" stroke="#4472C4" stroke-width="1.1"/><path d="M594.0 278.7L597.6 285.6L590.4 285.6Z" fill="none" stroke="#4472C4" stroke-width="1.1"/><path d="M599.8 275.1L603.4 282.0L596.2 282.0Z" fill="none" stroke="#4472C4" stroke-width="1.1"/><path d="M605.6 272.7L609.2 279.6L602.0 279.6Z" fill="none" stroke="#4472C4" stroke-width="1.1"/><path d="M611.4 268.7L615.0 275.6L607.8 275.6Z" fill="none" stroke="#4472C4" stroke-width="1.1"/><path d="M617.2 264.4L620.8 271.3L613.6 271.3Z" fill="none" stroke="#4472C4" stroke-width="1.1"/><path d="M623.0 261.7L626.6 268.6L619.4 268.6Z" fill="none" stroke="#4472C4" stroke-width="1.1"/><path d="M628.8 258.9L632.4 265.8L625.2 265.8Z" fill="none" stroke="#4472C4" stroke-width="1.1"/><path d="M634.7 258.0L638.3 264.9L631.1 264.9Z" fill="none" stroke="#4472C4" stroke-width="1.1"/><path d="M640.5 256.7L644.1 263.6L636.9 263.6Z" fill="none" stroke="#4472C4" stroke-width="1.1"/><path d="M646.3 254.6L649.9 261.5L642.7 261.5Z" fill="none" stroke="#4472C4" stroke-width="1.1"/></g><g><path d="M98.0 383.8L102.3 391.8L93.7 391.8Z" fill="#4472C4"/><path d="M103.5 385.1L107.8 393.1L99.2 393.1Z" fill="#4472C4"/><path d="M109.0 383.0L113.3 391.0L104.7 391.0Z" fill="#4472C4"/><path d="M114.6 383.6L118.9 391.6L110.3 391.6Z" fill="#4472C4"/><path d="M120.1 383.4L124.4 391.4L115.8 391.4Z" fill="#4472C4"/><path d="M125.6 381.5L129.9 389.5L121.3 389.5Z" fill="#4472C4"/><path d="M131.2 383.4L135.5 391.4L126.9 391.4Z" fill="#4472C4"/><path d="M136.7 383.9L141.0 391.9L132.4 391.9Z" fill="#4472C4"/><path d="M142.2 382.3L146.5 390.3L137.9 390.3Z" fill="#4472C4"/><path d="M147.7 383.3L152.0 391.3L143.4 391.3Z" fill="#4472C4"/><path d="M153.3 382.1L157.6 390.1L149.0 390.1Z" fill="#4472C4"/><path d="M158.8 380.2L163.1 388.2L154.5 388.2Z" fill="#4472C4"/><path d="M164.3 382.1L168.6 390.1L160.0 390.1Z" fill="#4472C4"/><path d="M169.9 381.6L174.2 389.6L165.6 389.6Z" fill="#4472C4"/><path d="M175.4 380.7L179.7 388.7L171.1 388.7Z" fill="#4472C4"/><path d="M180.9 382.0L185.2 390.0L176.6 390.0Z" fill="#4472C4"/><path d="M186.4 379.8L190.7 387.8L182.1 387.8Z" fill="#4472C4"/><path d="M192.0 378.4L196.3 386.4L187.7 386.4Z" fill="#4472C4"/><path d="M197.5 380.0L201.8 388.0L193.2 388.0Z" fill="#4472C4"/><path d="M203.0 378.8L207.3 386.8L198.7 386.8Z" fill="#4472C4"/><path d="M208.6 378.8L212.9 386.8L204.3 386.8Z" fill="#4472C4"/><path d="M214.1 380.1L218.4 388.1L209.8 388.1Z" fill="#4472C4"/><path d="M219.6 377.4L223.9 385.4L215.3 385.4Z" fill="#4472C4"/><path d="M225.1 376.5L229.4 384.5L220.8 384.5Z" fill="#4472C4"/><path d="M230.7 377.1L235.0 385.1L226.4 385.1Z" fill="#4472C4"/><path d="M236.2 375.2L240.5 383.2L231.9 383.2Z" fill="#4472C4"/><path d="M241.7 375.9L246.0 383.9L237.4 383.9Z" fill="#4472C4"/><path d="M247.2 376.7L251.5 384.7L242.9 384.7Z" fill="#4472C4"/><path d="M252.8 373.9L257.1 381.9L248.5 381.9Z" fill="#4472C4"/><path d="M258.3 373.8L262.6 381.8L254.0 381.8Z" fill="#4472C4"/><path d="M263.8 373.8L268.1 381.8L259.5 381.8Z" fill="#4472C4"/><path d="M269.4 371.8L273.7 379.8L265.1 379.8Z" fill="#4472C4"/><path d="M274.9 373.4L279.2 381.4L270.6 381.4Z" fill="#4472C4"/><path d="M280.4 373.5L284.7 381.5L276.1 381.5Z" fill="#4472C4"/><path d="M285.9 371.0L290.2 379.0L281.6 379.0Z" fill="#4472C4"/><path d="M291.5 370.8L295.8 378.8L287.2 378.8Z" fill="#4472C4"/><path d="M297.0 367.7L301.3 375.7L292.7 375.7Z" fill="#4472C4"/><path d="M302.5 363.5L306.8 371.5L298.2 371.5Z" fill="#4472C4"/><path d="M308.1 362.7L312.4 370.7L303.8 370.7Z" fill="#4472C4"/><path d="M313.6 358.2L317.9 366.2L309.3 366.2Z" fill="#4472C4"/><path d="M320.1 344.0L324.4 352.0L315.8 352.0Z" fill="#4472C4"/><path d="M327.9 329.8L332.2 337.8L323.6 337.8Z" fill="#4472C4"/><path d="M335.4 294.4L339.7 302.4L331.1 302.4Z" fill="#4472C4"/><path d="M345.3 267.1L349.6 275.1L341.0 275.1Z" fill="#4472C4"/><path d="M350.9 231.0L355.2 239.0L346.6 239.0Z" fill="#4472C4"/><path d="M355.8 180.5L360.1 188.5L351.5 188.5Z" fill="#4472C4"/><path d="M361.8 128.6L366.1 136.6L357.5 136.6Z" fill="#4472C4"/><path d="M367.0 87.7L371.3 95.7L362.7 95.7Z" fill="#4472C4"/><path d="M371.7 125.4L376.0 133.4L367.4 133.4Z" fill="#4472C4"/><path d="M377.9 160.5L382.2 168.5L373.6 168.5Z" fill="#4472C4"/><path d="M382.2 199.8L386.5 207.8L377.9 207.8Z" fill="#4472C4"/><path d="M388.3 232.6L392.6 240.6L384.0 240.6Z" fill="#4472C4"/><path d="M393.8 260.9L398.1 268.9L389.5 268.9Z" fill="#4472C4"/><path d="M399.0 282.8L403.3 290.8L394.7 290.8Z" fill="#4472C4"/><path d="M405.8 304.4L410.1 312.4L401.5 312.4Z" fill="#4472C4"/><path d="M411.5 321.5L415.8 329.5L407.2 329.5Z" fill="#4472C4"/><path d="M418.7 334.7L423.0 342.7L414.4 342.7Z" fill="#4472C4"/><path d="M425.8 341.7L430.1 349.7L421.5 349.7Z" fill="#4472C4"/><path d="M431.6 345.2L435.9 353.2L427.3 353.2Z" fill="#4472C4"/><path d="M437.4 347.4L441.7 355.4L433.1 355.4Z" fill="#4472C4"/><path d="M443.2 350.2L447.5 358.2L438.9 358.2Z" fill="#4472C4"/><path d="M449.0 351.6L453.3 359.6L444.7 359.6Z" fill="#4472C4"/><path d="M454.8 351.8L459.1 359.8L450.5 359.8Z" fill="#4472C4"/><path d="M460.6 352.5L464.9 360.5L456.3 360.5Z" fill="#4472C4"/><path d="M466.4 350.5L470.7 358.5L462.1 358.5Z" fill="#4472C4"/><path d="M472.2 348.4L476.5 356.4L467.9 356.4Z" fill="#4472C4"/><path d="M478.0 346.9L482.3 354.9L473.7 354.9Z" fill="#4472C4"/><path d="M483.8 343.8L488.1 351.8L479.5 351.8Z" fill="#4472C4"/><path d="M489.7 341.3L494.0 349.3L485.4 349.3Z" fill="#4472C4"/><path d="M495.5 339.0L499.8 347.0L491.2 347.0Z" fill="#4472C4"/><path d="M501.3 334.8L505.6 342.8L497.0 342.8Z" fill="#4472C4"/><path d="M507.1 331.1L511.4 339.1L502.8 339.1Z" fill="#4472C4"/><path d="M512.9 328.2L517.2 336.2L508.6 336.2Z" fill="#4472C4"/><path d="M518.7 324.4L523.0 332.4L514.4 332.4Z" fill="#4472C4"/><path d="M524.5 321.7L528.8 329.7L520.2 329.7Z" fill="#4472C4"/><path d="M530.3 319.7L534.6 327.7L526.0 327.7Z" fill="#4472C4"/><path d="M536.1 316.5L540.4 324.5L531.8 324.5Z" fill="#4472C4"/><path d="M541.9 314.3L546.2 322.3L537.6 322.3Z" fill="#4472C4"/><path d="M547.7 312.7L552.0 320.7L543.4 320.7Z" fill="#4472C4"/><path d="M553.5 310.3L557.8 318.3L549.2 318.3Z" fill="#4472C4"/><path d="M559.3 309.5L563.6 317.5L555.0 317.5Z" fill="#4472C4"/><path d="M565.1 308.6L569.4 316.6L560.8 316.6Z" fill="#4472C4"/><path d="M570.9 307.2L575.2 315.2L566.6 315.2Z" fill="#4472C4"/><path d="M576.7 306.4L581.0 314.4L572.4 314.4Z" fill="#4472C4"/><path d="M582.5 304.3L586.8 312.3L578.2 312.3Z" fill="#4472C4"/><path d="M588.3 302.3L592.6 310.3L584.0 310.3Z" fill="#4472C4"/><path d="M594.1 301.6L598.4 309.6L589.8 309.6Z" fill="#4472C4"/><path d="M599.9 294.7L604.2 302.7L595.6 302.7Z" fill="#4472C4"/><path d="M605.7 292.4L610.0 300.4L601.4 300.4Z" fill="#4472C4"/><path d="M611.5 290.8L615.8 298.8L607.2 298.8Z" fill="#4472C4"/><path d="M617.3 288.5L621.6 296.5L613.0 296.5Z" fill="#4472C4"/><path d="M623.2 286.3L627.5 294.3L618.9 294.3Z" fill="#4472C4"/><path d="M629.0 285.0L633.3 293.0L624.7 293.0Z" fill="#4472C4"/><path d="M634.8 283.0L639.1 291.0L630.5 291.0Z" fill="#4472C4"/><path d="M640.6 281.8L644.9 289.8L636.3 289.8Z" fill="#4472C4"/><path d="M646.4 280.7L650.7 288.7L642.1 288.7Z" fill="#4472C4"/></g><g><path d="M99.3 396.7L103.6 401.0L99.3 405.3L95.0 401.0Z" fill="none" stroke="#FFD043" stroke-width="1.25"/><path d="M104.8 396.0L109.1 400.3L104.8 404.6L100.5 400.3Z" fill="none" stroke="#FFD043" stroke-width="1.25"/><path d="M110.3 396.7L114.6 401.0L110.3 405.3L106.0 401.0Z" fill="none" stroke="#FFD043" stroke-width="1.25"/><path d="M115.8 395.8L120.1 400.1L115.8 404.4L111.5 400.1Z" fill="none" stroke="#FFD043" stroke-width="1.25"/><path d="M121.4 395.3L125.7 399.6L121.4 403.9L117.1 399.6Z" fill="none" stroke="#FFD043" stroke-width="1.25"/><path d="M126.9 396.5L131.2 400.8L126.9 405.1L122.6 400.8Z" fill="none" stroke="#FFD043" stroke-width="1.25"/><path d="M132.4 396.1L136.7 400.4L132.4 404.7L128.1 400.4Z" fill="none" stroke="#FFD043" stroke-width="1.25"/><path d="M138.0 396.0L142.3 400.3L138.0 404.6L133.7 400.3Z" fill="none" stroke="#FFD043" stroke-width="1.25"/><path d="M143.5 396.7L147.8 401.0L143.5 405.3L139.2 401.0Z" fill="none" stroke="#FFD043" stroke-width="1.25"/><path d="M149.0 395.4L153.3 399.7L149.0 404.0L144.7 399.7Z" fill="none" stroke="#FFD043" stroke-width="1.25"/><path d="M154.5 395.3L158.8 399.6L154.5 403.9L150.2 399.6Z" fill="none" stroke="#FFD043" stroke-width="1.25"/><path d="M160.1 396.2L164.4 400.5L160.1 404.8L155.8 400.5Z" fill="none" stroke="#FFD043" stroke-width="1.25"/><path d="M165.6 395.6L169.9 399.9L165.6 404.2L161.3 399.9Z" fill="none" stroke="#FFD043" stroke-width="1.25"/><path d="M171.1 396.1L175.4 400.4L171.1 404.7L166.8 400.4Z" fill="none" stroke="#FFD043" stroke-width="1.25"/><path d="M176.7 396.6L181.0 400.9L176.7 405.2L172.4 400.9Z" fill="none" stroke="#FFD043" stroke-width="1.25"/><path d="M182.2 395.2L186.5 399.5L182.2 403.8L177.9 399.5Z" fill="none" stroke="#FFD043" stroke-width="1.25"/><path d="M187.7 395.4L192.0 399.7L187.7 404.0L183.4 399.7Z" fill="none" stroke="#FFD043" stroke-width="1.25"/><path d="M193.2 395.8L197.5 400.1L193.2 404.4L188.9 400.1Z" fill="none" stroke="#FFD043" stroke-width="1.25"/><path d="M198.8 395.1L203.1 399.4L198.8 403.7L194.5 399.4Z" fill="none" stroke="#FFD043" stroke-width="1.25"/><path d="M204.3 396.1L208.6 400.4L204.3 404.7L200.0 400.4Z" fill="none" stroke="#FFD043" stroke-width="1.25"/><path d="M209.8 396.3L214.1 400.6L209.8 404.9L205.5 400.6Z" fill="none" stroke="#FFD043" stroke-width="1.25"/><path d="M215.4 395.0L219.7 399.3L215.4 403.6L211.1 399.3Z" fill="none" stroke="#FFD043" stroke-width="1.25"/><path d="M220.9 395.4L225.2 399.7L220.9 404.0L216.6 399.7Z" fill="none" stroke="#FFD043" stroke-width="1.25"/><path d="M226.4 395.3L230.7 399.6L226.4 403.9L222.1 399.6Z" fill="none" stroke="#FFD043" stroke-width="1.25"/><path d="M231.9 394.6L236.2 398.9L231.9 403.2L227.6 398.9Z" fill="none" stroke="#FFD043" stroke-width="1.25"/><path d="M237.5 395.8L241.8 400.1L237.5 404.4L233.2 400.1Z" fill="none" stroke="#FFD043" stroke-width="1.25"/><path d="M243.0 395.7L247.3 400.0L243.0 404.3L238.7 400.0Z" fill="none" stroke="#FFD043" stroke-width="1.25"/><path d="M248.5 394.8L252.8 399.1L248.5 403.4L244.2 399.1Z" fill="none" stroke="#FFD043" stroke-width="1.25"/><path d="M254.0 395.4L258.3 399.7L254.0 404.0L249.7 399.7Z" fill="none" stroke="#FFD043" stroke-width="1.25"/><path d="M259.6 394.6L263.9 398.9L259.6 403.2L255.3 398.9Z" fill="none" stroke="#FFD043" stroke-width="1.25"/><path d="M265.1 394.1L269.4 398.4L265.1 402.7L260.8 398.4Z" fill="none" stroke="#FFD043" stroke-width="1.25"/><path d="M270.6 395.2L274.9 399.5L270.6 403.8L266.3 399.5Z" fill="none" stroke="#FFD043" stroke-width="1.25"/><path d="M276.2 394.7L280.5 399.0L276.2 403.3L271.9 399.0Z" fill="none" stroke="#FFD043" stroke-width="1.25"/><path d="M281.7 394.1L286.0 398.4L281.7 402.7L277.4 398.4Z" fill="none" stroke="#FFD043" stroke-width="1.25"/><path d="M287.2 394.6L291.5 398.9L287.2 403.2L282.9 398.9Z" fill="none" stroke="#FFD043" stroke-width="1.25"/><path d="M292.7 393.2L297.0 397.5L292.7 401.8L288.4 397.5Z" fill="none" stroke="#FFD043" stroke-width="1.25"/><path d="M298.3 392.6L302.6 396.9L298.3 401.2L294.0 396.9Z" fill="none" stroke="#FFD043" stroke-width="1.25"/><path d="M303.8 392.8L308.1 397.1L303.8 401.4L299.5 397.1Z" fill="none" stroke="#FFD043" stroke-width="1.25"/><path d="M309.3 391.3L313.6 395.6L309.3 399.9L305.0 395.6Z" fill="none" stroke="#FFD043" stroke-width="1.25"/><path d="M314.9 390.6L319.2 394.9L314.9 399.2L310.6 394.9Z" fill="none" stroke="#FFD043" stroke-width="1.25"/><path d="M320.4 386.6L324.7 390.9L320.4 395.2L316.1 390.9Z" fill="none" stroke="#FFD043" stroke-width="1.25"/><path d="M325.4 372.7L329.7 377.0L325.4 381.3L321.1 377.0Z" fill="none" stroke="#FFD043" stroke-width="1.25"/><path d="M333.5 349.9L337.8 354.2L333.5 358.5L329.2 354.2Z" fill="none" stroke="#FFD043" stroke-width="1.25"/><path d="M337.2 337.0L341.5 341.3L337.2 345.6L332.9 341.3Z" fill="none" stroke="#FFD043" stroke-width="1.25"/><path d="M342.5 328.6L346.8 332.9L342.5 337.2L338.2 332.9Z" fill="none" stroke="#FFD043" stroke-width="1.25"/><path d="M347.8 324.1L352.1 328.4L347.8 332.7L343.5 328.4Z" fill="none" stroke="#FFD043" stroke-width="1.25"/><path d="M353.3 322.2L357.6 326.5L353.3 330.8L349.0 326.5Z" fill="none" stroke="#FFD043" stroke-width="1.25"/><path d="M358.8 320.3L363.1 324.6L358.8 328.9L354.5 324.6Z" fill="none" stroke="#FFD043" stroke-width="1.25"/><path d="M363.4 325.1L367.7 329.4L363.4 333.7L359.1 329.4Z" fill="none" stroke="#FFD043" stroke-width="1.25"/><path d="M368.9 327.0L373.2 331.3L368.9 335.6L364.6 331.3Z" fill="none" stroke="#FFD043" stroke-width="1.25"/><path d="M373.5 333.1L377.8 337.4L373.5 341.7L369.2 337.4Z" fill="none" stroke="#FFD043" stroke-width="1.25"/><path d="M380.0 335.1L384.3 339.4L380.0 343.7L375.7 339.4Z" fill="none" stroke="#FFD043" stroke-width="1.25"/><path d="M384.6 339.9L388.9 344.2L384.6 348.5L380.3 344.2Z" fill="none" stroke="#FFD043" stroke-width="1.25"/><path d="M390.1 344.4L394.4 348.7L390.1 353.0L385.8 348.7Z" fill="none" stroke="#FFD043" stroke-width="1.25"/><path d="M395.6 349.9L399.9 354.2L395.6 358.5L391.3 354.2Z" fill="none" stroke="#FFD043" stroke-width="1.25"/><path d="M401.2 353.7L405.5 358.0L401.2 362.3L396.9 358.0Z" fill="none" stroke="#FFD043" stroke-width="1.25"/><path d="M405.8 358.3L410.1 362.6L405.8 366.9L401.5 362.6Z" fill="none" stroke="#FFD043" stroke-width="1.25"/><path d="M411.6 360.8L415.9 365.1L411.6 369.4L407.3 365.1Z" fill="none" stroke="#FFD043" stroke-width="1.25"/><path d="M417.4 363.8L421.7 368.1L417.4 372.4L413.1 368.1Z" fill="none" stroke="#FFD043" stroke-width="1.25"/><path d="M423.2 366.1L427.5 370.4L423.2 374.7L418.9 370.4Z" fill="none" stroke="#FFD043" stroke-width="1.25"/><path d="M429.0 366.9L433.3 371.2L429.0 375.5L424.7 371.2Z" fill="none" stroke="#FFD043" stroke-width="1.25"/><path d="M434.8 368.9L439.1 373.2L434.8 377.5L430.5 373.2Z" fill="none" stroke="#FFD043" stroke-width="1.25"/><path d="M440.6 370.6L444.9 374.9L440.6 379.2L436.3 374.9Z" fill="none" stroke="#FFD043" stroke-width="1.25"/><path d="M446.4 371.1L450.7 375.4L446.4 379.7L442.1 375.4Z" fill="none" stroke="#FFD043" stroke-width="1.25"/><path d="M452.2 372.6L456.5 376.9L452.2 381.2L447.9 376.9Z" fill="none" stroke="#FFD043" stroke-width="1.25"/><path d="M458.0 373.6L462.3 377.9L458.0 382.2L453.7 377.9Z" fill="none" stroke="#FFD043" stroke-width="1.25"/><path d="M463.8 373.0L468.1 377.3L463.8 381.6L459.5 377.3Z" fill="none" stroke="#FFD043" stroke-width="1.25"/><path d="M469.6 373.7L473.9 378.0L469.6 382.3L465.3 378.0Z" fill="none" stroke="#FFD043" stroke-width="1.25"/><path d="M475.4 373.9L479.7 378.2L475.4 382.5L471.1 378.2Z" fill="none" stroke="#FFD043" stroke-width="1.25"/><path d="M481.2 373.6L485.5 377.9L481.2 382.2L476.9 377.9Z" fill="none" stroke="#FFD043" stroke-width="1.25"/><path d="M487.1 374.5L491.4 378.8L487.1 383.1L482.8 378.8Z" fill="none" stroke="#FFD043" stroke-width="1.25"/><path d="M492.9 374.4L497.2 378.7L492.9 383.0L488.6 378.7Z" fill="none" stroke="#FFD043" stroke-width="1.25"/><path d="M498.7 373.6L503.0 377.9L498.7 382.2L494.4 377.9Z" fill="none" stroke="#FFD043" stroke-width="1.25"/><path d="M504.5 373.8L508.8 378.1L504.5 382.4L500.2 378.1Z" fill="none" stroke="#FFD043" stroke-width="1.25"/><path d="M510.3 373.0L514.6 377.3L510.3 381.6L506.0 377.3Z" fill="none" stroke="#FFD043" stroke-width="1.25"/><path d="M516.1 372.8L520.4 377.1L516.1 381.4L511.8 377.1Z" fill="none" stroke="#FFD043" stroke-width="1.25"/><path d="M521.9 374.7L526.2 379.0L521.9 383.3L517.6 379.0Z" fill="none" stroke="#FFD043" stroke-width="1.25"/><path d="M527.7 375.4L532.0 379.7L527.7 384.0L523.4 379.7Z" fill="none" stroke="#FFD043" stroke-width="1.25"/><path d="M533.5 376.3L537.8 380.6L533.5 384.9L529.2 380.6Z" fill="none" stroke="#FFD043" stroke-width="1.25"/><path d="M539.3 377.8L543.6 382.1L539.3 386.4L535.0 382.1Z" fill="none" stroke="#FFD043" stroke-width="1.25"/><path d="M545.1 378.2L549.4 382.5L545.1 386.8L540.8 382.5Z" fill="none" stroke="#FFD043" stroke-width="1.25"/><path d="M550.9 379.1L555.2 383.4L550.9 387.7L546.6 383.4Z" fill="none" stroke="#FFD043" stroke-width="1.25"/><path d="M556.7 380.2L561.0 384.5L556.7 388.8L552.4 384.5Z" fill="none" stroke="#FFD043" stroke-width="1.25"/><path d="M562.5 380.0L566.8 384.3L562.5 388.6L558.2 384.3Z" fill="none" stroke="#FFD043" stroke-width="1.25"/><path d="M568.3 380.4L572.6 384.7L568.3 389.0L564.0 384.7Z" fill="none" stroke="#FFD043" stroke-width="1.25"/><path d="M574.1 381.1L578.4 385.4L574.1 389.7L569.8 385.4Z" fill="none" stroke="#FFD043" stroke-width="1.25"/><path d="M579.9 380.8L584.2 385.1L579.9 389.4L575.6 385.1Z" fill="none" stroke="#FFD043" stroke-width="1.25"/><path d="M585.7 381.6L590.0 385.9L585.7 390.2L581.4 385.9Z" fill="none" stroke="#FFD043" stroke-width="1.25"/><path d="M591.5 382.7L595.8 387.0L591.5 391.3L587.2 387.0Z" fill="none" stroke="#FFD043" stroke-width="1.25"/><path d="M597.3 382.8L601.6 387.1L597.3 391.4L593.0 387.1Z" fill="none" stroke="#FFD043" stroke-width="1.25"/><path d="M603.1 383.8L607.4 388.1L603.1 392.4L598.8 388.1Z" fill="none" stroke="#FFD043" stroke-width="1.25"/><path d="M608.9 384.5L613.2 388.8L608.9 393.1L604.6 388.8Z" fill="none" stroke="#FFD043" stroke-width="1.25"/><path d="M614.7 384.1L619.0 388.4L614.7 392.7L610.4 388.4Z" fill="none" stroke="#FFD043" stroke-width="1.25"/><path d="M620.6 384.9L624.9 389.2L620.6 393.5L616.3 389.2Z" fill="none" stroke="#FFD043" stroke-width="1.25"/><path d="M626.4 385.5L630.7 389.8L626.4 394.1L622.1 389.8Z" fill="none" stroke="#FFD043" stroke-width="1.25"/><path d="M632.2 385.6L636.5 389.9L632.2 394.2L627.9 389.9Z" fill="none" stroke="#FFD043" stroke-width="1.25"/><path d="M638.0 386.8L642.3 391.1L638.0 395.4L633.7 391.1Z" fill="none" stroke="#FFD043" stroke-width="1.25"/><path d="M643.8 387.2L648.1 391.5L643.8 395.8L639.5 391.5Z" fill="none" stroke="#FFD043" stroke-width="1.25"/></g><g><path d="M98.7 400.2L103.1 404.6L98.7 409.0L94.3 404.6Z" fill="#FFC000"/><path d="M104.2 401.0L108.6 405.4L104.2 409.8L99.8 405.4Z" fill="#FFC000"/><path d="M109.8 400.3L114.2 404.7L109.8 409.1L105.4 404.7Z" fill="#FFC000"/><path d="M115.3 401.0L119.7 405.4L115.3 409.8L110.9 405.4Z" fill="#FFC000"/><path d="M120.8 401.1L125.2 405.5L120.8 409.9L116.4 405.5Z" fill="#FFC000"/><path d="M126.4 399.7L130.8 404.1L126.4 408.5L122.0 404.1Z" fill="#FFC000"/><path d="M131.9 400.3L136.3 404.7L131.9 409.1L127.5 404.7Z" fill="#FFC000"/><path d="M137.4 400.5L141.8 404.9L137.4 409.3L133.0 404.9Z" fill="#FFC000"/><path d="M142.9 399.9L147.3 404.3L142.9 408.7L138.5 404.3Z" fill="#FFC000"/><path d="M148.5 401.1L152.9 405.5L148.5 409.9L144.1 405.5Z" fill="#FFC000"/><path d="M154.0 400.8L158.4 405.2L154.0 409.6L149.6 405.2Z" fill="#FFC000"/><path d="M159.5 399.7L163.9 404.1L159.5 408.5L155.1 404.1Z" fill="#FFC000"/><path d="M165.0 400.4L169.4 404.8L165.0 409.2L160.6 404.8Z" fill="#FFC000"/><path d="M170.6 399.9L175.0 404.3L170.6 408.7L166.2 404.3Z" fill="#FFC000"/><path d="M176.1 399.6L180.5 404.0L176.1 408.4L171.7 404.0Z" fill="#FFC000"/><path d="M181.6 401.0L186.0 405.4L181.6 409.8L177.2 405.4Z" fill="#FFC000"/><path d="M187.2 400.4L191.6 404.8L187.2 409.2L182.8 404.8Z" fill="#FFC000"/><path d="M192.7 399.8L197.1 404.2L192.7 408.6L188.3 404.2Z" fill="#FFC000"/><path d="M198.2 400.4L202.6 404.8L198.2 409.2L193.8 404.8Z" fill="#FFC000"/><path d="M203.7 399.4L208.1 403.8L203.7 408.2L199.3 403.8Z" fill="#FFC000"/><path d="M209.3 399.5L213.7 403.9L209.3 408.3L204.9 403.9Z" fill="#FFC000"/><path d="M214.8 400.7L219.2 405.1L214.8 409.5L210.4 405.1Z" fill="#FFC000"/><path d="M220.3 400.0L224.7 404.4L220.3 408.8L215.9 404.4Z" fill="#FFC000"/><path d="M225.9 399.9L230.3 404.3L225.9 408.7L221.5 404.3Z" fill="#FFC000"/><path d="M231.4 400.3L235.8 404.7L231.4 409.1L227.0 404.7Z" fill="#FFC000"/><path d="M236.9 399.0L241.3 403.4L236.9 407.8L232.5 403.4Z" fill="#FFC000"/><path d="M242.4 399.4L246.8 403.8L242.4 408.2L238.0 403.8Z" fill="#FFC000"/><path d="M248.0 400.3L252.4 404.7L248.0 409.1L243.6 404.7Z" fill="#FFC000"/><path d="M253.5 399.6L257.9 404.0L253.5 408.4L249.1 404.0Z" fill="#FFC000"/><path d="M259.0 400.1L263.4 404.5L259.0 408.9L254.6 404.5Z" fill="#FFC000"/><path d="M264.6 400.1L269.0 404.5L264.6 408.9L260.2 404.5Z" fill="#FFC000"/><path d="M270.1 398.6L274.5 403.0L270.1 407.4L265.7 403.0Z" fill="#FFC000"/><path d="M275.6 399.0L280.0 403.4L275.6 407.8L271.2 403.4Z" fill="#FFC000"/><path d="M281.1 399.3L285.5 403.7L281.1 408.1L276.7 403.7Z" fill="#FFC000"/><path d="M286.7 398.5L291.1 402.9L286.7 407.3L282.3 402.9Z" fill="#FFC000"/><path d="M292.2 399.2L296.6 403.6L292.2 408.0L287.8 403.6Z" fill="#FFC000"/><path d="M297.7 398.4L302.1 402.8L297.7 407.2L293.3 402.8Z" fill="#FFC000"/><path d="M303.2 396.7L307.6 401.1L303.2 405.5L298.8 401.1Z" fill="#FFC000"/><path d="M308.8 396.5L313.2 400.9L308.8 405.3L304.4 400.9Z" fill="#FFC000"/><path d="M315.1 393.9L319.5 398.3L315.1 402.7L310.7 398.3Z" fill="#FFC000"/><path d="M321.6 389.1L326.0 393.5L321.6 397.9L317.2 393.5Z" fill="#FFC000"/><path d="M328.0 381.7L332.4 386.1L328.0 390.5L323.6 386.1Z" fill="#FFC000"/><path d="M333.5 373.6L337.9 378.0L333.5 382.4L329.1 378.0Z" fill="#FFC000"/><path d="M339.7 357.8L344.1 362.2L339.7 366.6L335.3 362.2Z" fill="#FFC000"/><path d="M350.1 345.0L354.5 349.4L350.1 353.8L345.7 349.4Z" fill="#FFC000"/><path d="M355.1 342.4L359.5 346.8L355.1 351.2L350.7 346.8Z" fill="#FFC000"/><path d="M360.6 340.5L365.0 344.9L360.6 349.3L356.2 344.9Z" fill="#FFC000"/><path d="M365.2 344.3L369.6 348.7L365.2 353.1L360.8 348.7Z" fill="#FFC000"/><path d="M371.7 349.8L376.1 354.2L371.7 358.6L367.3 354.2Z" fill="#FFC000"/><path d="M376.2 352.7L380.6 357.1L376.2 361.5L371.8 357.1Z" fill="#FFC000"/><path d="M381.8 357.2L386.2 361.6L381.8 366.0L377.4 361.6Z" fill="#FFC000"/><path d="M387.3 359.1L391.7 363.5L387.3 367.9L382.9 363.5Z" fill="#FFC000"/><path d="M392.9 359.8L397.3 364.2L392.9 368.6L388.5 364.2Z" fill="#FFC000"/><path d="M398.4 361.7L402.8 366.1L398.4 370.5L394.0 366.1Z" fill="#FFC000"/><path d="M403.9 364.6L408.3 369.0L403.9 373.4L399.5 369.0Z" fill="#FFC000"/><path d="M408.5 366.5L412.9 370.9L408.5 375.3L404.1 370.9Z" fill="#FFC000"/><path d="M414.3 368.4L418.7 372.8L414.3 377.2L409.9 372.8Z" fill="#FFC000"/><path d="M420.1 371.6L424.5 376.0L420.1 380.4L415.7 376.0Z" fill="#FFC000"/><path d="M425.9 373.6L430.3 378.0L425.9 382.4L421.5 378.0Z" fill="#FFC000"/><path d="M431.7 375.4L436.1 379.8L431.7 384.2L427.3 379.8Z" fill="#FFC000"/><path d="M437.5 378.0L441.9 382.4L437.5 386.8L433.1 382.4Z" fill="#FFC000"/><path d="M443.3 378.6L447.7 383.0L443.3 387.4L438.9 383.0Z" fill="#FFC000"/><path d="M449.1 379.5L453.5 383.9L449.1 388.3L444.7 383.9Z" fill="#FFC000"/><path d="M454.9 381.3L459.3 385.7L454.9 390.1L450.5 385.7Z" fill="#FFC000"/><path d="M460.7 381.9L465.1 386.3L460.7 390.7L456.3 386.3Z" fill="#FFC000"/><path d="M466.5 382.6L470.9 387.0L466.5 391.4L462.1 387.0Z" fill="#FFC000"/><path d="M472.3 383.8L476.7 388.2L472.3 392.6L467.9 388.2Z" fill="#FFC000"/><path d="M478.2 383.5L482.6 387.9L478.2 392.3L473.8 387.9Z" fill="#FFC000"/><path d="M484.0 383.7L488.4 388.1L484.0 392.5L479.6 388.1Z" fill="#FFC000"/><path d="M489.8 384.6L494.2 389.0L489.8 393.4L485.4 389.0Z" fill="#FFC000"/><path d="M495.6 384.5L500.0 388.9L495.6 393.3L491.2 388.9Z" fill="#FFC000"/><path d="M501.4 385.3L505.8 389.7L501.4 394.1L497.0 389.7Z" fill="#FFC000"/><path d="M507.2 386.0L511.6 390.4L507.2 394.8L502.8 390.4Z" fill="#FFC000"/><path d="M513.0 385.5L517.4 389.9L513.0 394.3L508.6 389.9Z" fill="#FFC000"/><path d="M518.8 385.7L523.2 390.1L518.8 394.5L514.4 390.1Z" fill="#FFC000"/><path d="M524.6 385.9L529.0 390.3L524.6 394.7L520.2 390.3Z" fill="#FFC000"/><path d="M530.4 385.3L534.8 389.7L530.4 394.1L526.0 389.7Z" fill="#FFC000"/><path d="M536.2 386.3L540.6 390.7L536.2 395.1L531.8 390.7Z" fill="#FFC000"/><path d="M542.0 386.7L546.4 391.1L542.0 395.5L537.6 391.1Z" fill="#FFC000"/><path d="M547.8 386.2L552.2 390.6L547.8 395.0L543.4 390.6Z" fill="#FFC000"/><path d="M553.6 386.7L558.0 391.1L553.6 395.5L549.2 391.1Z" fill="#FFC000"/><path d="M559.4 386.5L563.8 390.9L559.4 395.3L555.0 390.9Z" fill="#FFC000"/><path d="M565.2 386.0L569.6 390.4L565.2 394.8L560.8 390.4Z" fill="#FFC000"/><path d="M571.0 386.9L575.4 391.3L571.0 395.7L566.6 391.3Z" fill="#FFC000"/><path d="M576.8 387.0L581.2 391.4L576.8 395.8L572.4 391.4Z" fill="#FFC000"/><path d="M582.6 386.6L587.0 391.0L582.6 395.4L578.2 391.0Z" fill="#FFC000"/><path d="M588.4 387.1L592.8 391.5L588.4 395.9L584.0 391.5Z" fill="#FFC000"/><path d="M594.2 386.6L598.6 391.0L594.2 395.4L589.8 391.0Z" fill="#FFC000"/><path d="M600.0 386.3L604.4 390.7L600.0 395.1L595.6 390.7Z" fill="#FFC000"/><path d="M605.8 387.2L610.2 391.6L605.8 396.0L601.4 391.6Z" fill="#FFC000"/><path d="M611.7 386.9L616.1 391.3L611.7 395.7L607.3 391.3Z" fill="#FFC000"/><path d="M617.5 387.0L621.9 391.4L617.5 395.8L613.1 391.4Z" fill="#FFC000"/><path d="M623.3 387.5L627.7 391.9L623.3 396.3L618.9 391.9Z" fill="#FFC000"/><path d="M629.1 386.7L633.5 391.1L629.1 395.5L624.7 391.1Z" fill="#FFC000"/><path d="M634.9 386.6L639.3 391.0L634.9 395.4L630.5 391.0Z" fill="#FFC000"/><path d="M640.7 387.3L645.1 391.7L640.7 396.1L636.3 391.7Z" fill="#FFC000"/><path d="M646.5 386.9L650.9 391.3L646.5 395.7L642.1 391.3Z" fill="#FFC000"/></g>
<rect x="430.5" y="40.5" width="205" height="153" fill="#fff" stroke="#8c8c8c" stroke-width="1"/><circle cx="444.8" cy="59.5" r="3.7" fill="none" stroke="#C00000" stroke-width="1.15"/><circle cx="547.0" cy="59.5" r="3.7" fill="#C00000"/><text x="456.4" y="67.3" font-size="23.5">1.0 SP</text><text x="558.4" y="67.3" font-size="23.5">6.5 SP</text><rect x="441.3" y="94.0" width="7.0" height="7.0" fill="none" stroke="#00B050" stroke-width="1.1"/><rect x="543.2" y="93.7" width="7.6" height="7.6" fill="#00B050"/><text x="456.4" y="105.3" font-size="23.5">1.0 CM</text><text x="558.4" y="105.3" font-size="23.5">6.5 CM</text><path d="M444.8 132.1L448.4 139.0L441.2 139.0Z" fill="none" stroke="#4472C4" stroke-width="1.1"/><path d="M547.0 131.4L551.3 139.4L542.7 139.4Z" fill="#4472C4"/><text x="456.4" y="143.6" font-size="23.5">1.0 CT</text><text x="558.4" y="143.6" font-size="23.5">6.5 CT</text><path d="M444.8 169.9L449.1 174.2L444.8 178.5L440.5 174.2Z" fill="none" stroke="#FFD043" stroke-width="1.25"/><path d="M547.0 169.8L551.4 174.2L547.0 178.6L542.6 174.2Z" fill="#FFC000"/><text x="456.4" y="182.0" font-size="23.5">1.0 XL</text><text x="558.4" y="182.0" font-size="23.5">6.5 XL</text>
<g fill="#111"><text x="74.2" y="418.4" text-anchor="end">0.0</text><text x="74.2" y="354.0" text-anchor="end">0.2</text><text x="74.2" y="289.6" text-anchor="end">0.4</text><text x="74.2" y="225.2" text-anchor="end">0.6</text><text x="74.2" y="160.9" text-anchor="end">0.8</text><text x="74.2" y="96.5" text-anchor="end">1.0</text><text x="74.2" y="32.1" text-anchor="end">1.2</text><text x="96.5" y="450.0" text-anchor="middle">20</text><text x="207.1" y="450.0" text-anchor="middle">40</text><text x="317.6" y="450.0" text-anchor="middle">60</text><text x="428.2" y="450.0" text-anchor="middle">80</text><text x="538.7" y="450.0" text-anchor="middle">100</text><text x="649.3" y="450.0" text-anchor="middle">120</text><text x="380" y="474.0" text-anchor="middle">Temperature (°C)</text><text transform="translate(26.6,234.2) rotate(-90)" x="0" y="0">tan</text><text transform="translate(27.0,234.2) rotate(-90) translate(45.3,0) scale(1.2,1)" x="0" y="0" style="font-family:Liberation Serif;font-style:italic">δ</text></g>
</svg>
</body></html>
